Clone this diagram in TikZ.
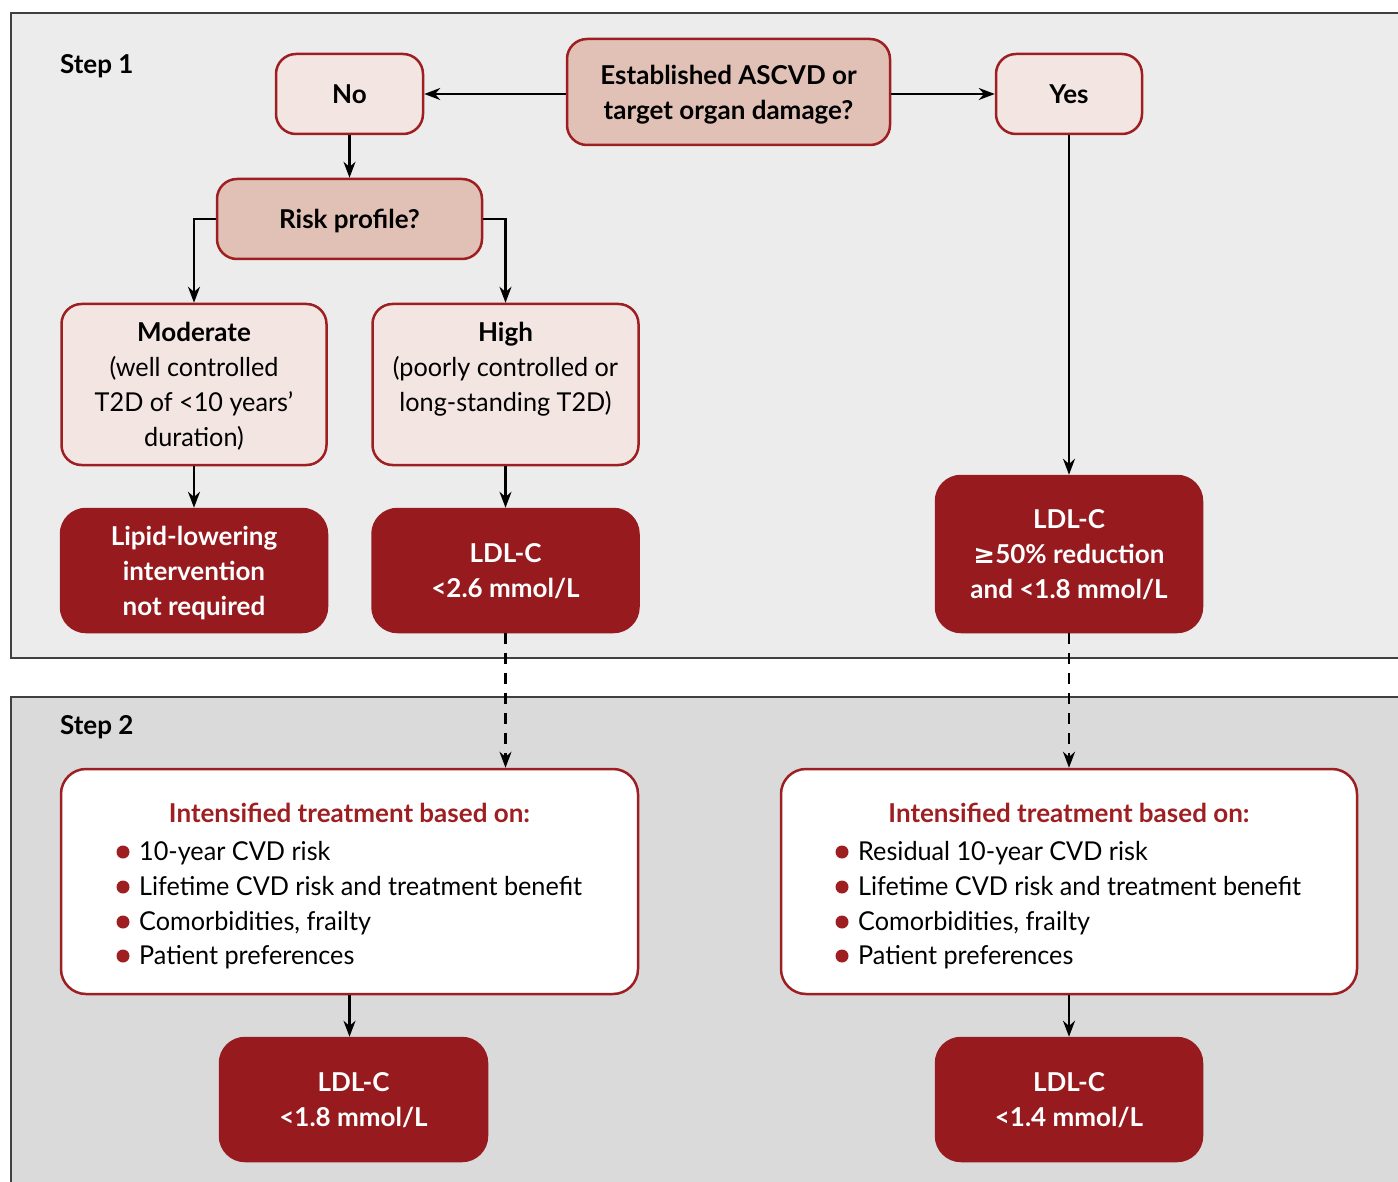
\documentclass[tikz,border=0pt]{standalone}
\usepackage{fontspec}
\setmainfont{Lato}[UprightFeatures={FakeStretch=0.97},BoldFeatures={FakeStretch=1.0}]
\newfontfamily\symf{DejaVu Sans}
\usetikzlibrary{arrows.meta}
\definecolor{dred}{HTML}{961A1E}
\definecolor{bred}{HTML}{9E1F22}
\definecolor{pinkL}{HTML}{F3E5E1}
\definecolor{pinkM}{HTML}{E1C1B6}
\definecolor{bgA}{HTML}{ECECEC}
\definecolor{bgB}{HTML}{DADADA}
\begin{document}
\begin{tikzpicture}[x=1pt,y=-1pt,
  txt/.style={font=\fontsize{26}{35}\selectfont},
  btxt/.style={font=\fontsize{26}{35}\selectfont\bfseries},
  box/.style={draw=bred, line width=2.5pt, rounded corners=20pt, align=center, inner sep=0pt, txt,
    text depth=0pt},
  light/.style={box, fill=pinkL},
  mid/.style={box, fill=pinkM, btxt},
  dark/.style={box, draw=dred, fill=dred, text=white, rounded corners=25pt, btxt},
  whitebox/.style={box, fill=white, rounded corners=25pt},
  arr/.style={line width=2.3pt, -{Stealth[length=16pt,width=12pt]}},
  darr/.style={arr, dash pattern=on 11pt off 9pt},
  panel/.style={draw=black!75, line width=1.5pt},
  bul/.style={fill=bred},
  item/.style={txt, anchor=base west, inner sep=0pt},
  head/.style={btxt, text=bred, anchor=base, inner sep=0pt}
]
\useasboundingbox (0,0) rectangle (1398,1182);
\fill[white] (0,0) rectangle (1398,1182);
\draw[panel, fill=bgA] (11,13) rectangle (1420,658);
\draw[panel, fill=bgB] (11,697) rectangle (1420,1200);

\node[btxt, anchor=base west, inner sep=0pt] (s1) at (60,74) {Step 1};
\node[btxt, anchor=base west, inner sep=0pt] (s2) at (60,734) {Step 2};

% Step 1
\node[mid, minimum width=323pt, minimum height=106pt] (est) at (728.5,92) {Established ASCVD or\\target organ damage?};
\node[light, btxt, minimum width=147pt, minimum height=80pt] (no) at (349.5,94) {No};
\node[light, btxt, minimum width=146pt, minimum height=80pt] (yes) at (1069,94) {Yes};
\node[mid, minimum width=265pt, minimum height=80pt] (risk) at (349.5,219) {Risk profile?};
\node[light, minimum width=265pt, minimum height=161pt] (mod) at (194,384.5) {\textbf{Moderate}\\(well controlled\\T2D of <10 years’\\duration)};
\node[light, minimum width=266pt, minimum height=161pt] (high) at (505.5,384.5) {\textbf{High}\\(poorly controlled or\\long-standing T2D)\\~};
\node[dark, minimum width=266pt, minimum height=123pt] (lipid) at (194,570.5) {Lipid-lowering\\intervention\\not required};
\node[dark, minimum width=266pt, minimum height=123pt] (ldl26) at (505.5,570.5) {LDL-C\\<2.6 mmol/L};
\node[dark, minimum width=266pt, minimum height=156pt] (ldl50) at (1069,554) {LDL-C\\{\symf ≥}50\% reduction\\and <1.8 mmol/L};

% Step 2
\node[whitebox, minimum width=577pt, minimum height=225pt] (intL) at (349.5,881.5) {};
\node[whitebox, minimum width=576pt, minimum height=225pt] (intR) at (1069,881.5) {};
\node[dark, minimum width=267pt, minimum height=123pt] (ldl18) at (353.5,1099.5) {LDL-C\\<1.8 mmol/L};
\node[dark, minimum width=266pt, minimum height=123pt] (ldl14) at (1069,1099.5) {LDL-C\\<1.4 mmol/L};

\node[head] (hL) at (349.5,822) {Intensified treatment based on:};
\node[item] (l1) at (139,860) {10-year CVD risk};
\node[item] (l2) at (139,895) {Lifetime CVD risk and treatment benefit};
\node[item] (l3) at (139,930) {Comorbidities, frailty};
\node[item] (l4) at (139,964) {Patient preferences};
\foreach \y in {852,887,922,956} \fill[bul] (123,\y) circle (6.5pt);

\node[head] (hR) at (1069,822) {Intensified treatment based on:};
\node[item] (r1) at (858,860) {Residual 10-year CVD risk};
\node[item] (r2) at (858,895) {Lifetime CVD risk and treatment benefit};
\node[item] (r3) at (858,930) {Comorbidities, frailty};
\node[item] (r4) at (858,964) {Patient preferences};
\foreach \y in {852,887,922,956} \fill[bul] (842,\y) circle (6.5pt);

% connectors
\draw[arr] (est.west |- no.east) -- (no.east);
\draw[arr] (est.east |- yes.west) -- (yes.west);
\draw[arr] (no) -- (risk);
\draw[arr] (risk.west) -| (mod.north);
\draw[arr] (risk.east) -| (high.north);
\draw[arr] (mod) -- (lipid);
\draw[arr] (high) -- (ldl26);
\draw[arr] (yes) -- (ldl50);
\draw[darr] (ldl26.south) -- (ldl26.south |- intL.north);
\draw[darr] (ldl50) -- (intR);
\draw[arr] (intL.south) -- (intL.south |- ldl18.north);
\draw[arr] (intR) -- (ldl14);
\end{tikzpicture}
\end{document}
